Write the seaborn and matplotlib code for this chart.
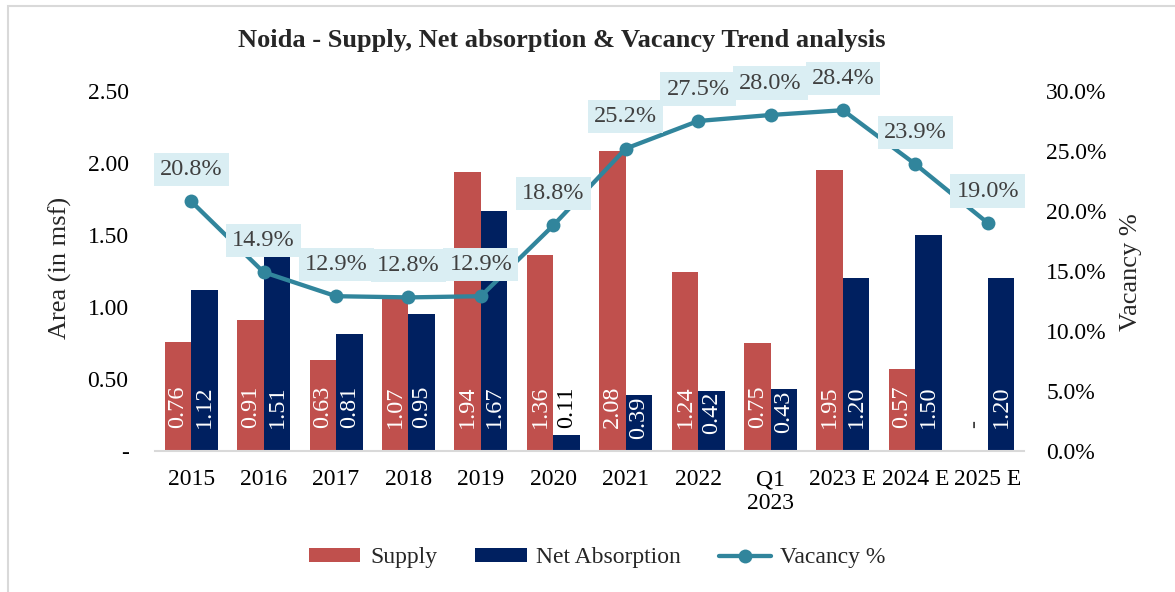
import numpy as np
import pandas as pd
import matplotlib
matplotlib.use("Agg")
import matplotlib.pyplot as plt
import seaborn as sns
from matplotlib.patches import Rectangle, Patch
from matplotlib.lines import Line2D

# ---- data ----
periods = ["2015", "2016", "2017", "2018", "2019", "2020", "2021", "2022",
           "Q1\n2023", "2023 E", "2024 E", "2025 E"]
supply = [0.76, 0.91, 0.63, 1.07, 1.94, 1.36, 2.08, 1.24, 0.75, 1.95, 0.57, 0.00]
net_absorption = [1.12, 1.51, 0.81, 0.95, 1.67, 0.11, 0.39, 0.42, 0.43, 1.20, 1.50, 1.20]
vacancy = [20.8, 14.9, 12.9, 12.8, 12.9, 18.8, 25.2, 27.5, 28.0, 28.4, 23.9, 19.0]
area_ticks = [0.0, 0.5, 1.0, 1.5, 2.0, 2.5]
vacancy_ticks = [0, 5, 10, 15, 20, 25, 30]

# ---- style ----
SUPPLY_C = "#C0504D"
ABS_C = "#002060"
LINE_C = "#31859C"
BOX_C = "#DAEEF3"
LABEL_C = "#404040"
FS = 17
FS_DATA = 17.5
FS_TITLE = 19

sns.set_theme(style="white")
plt.rcParams["font.family"] = ["Liberation Serif", "DejaVu Serif"]

W, H = 1175, 592
fig = plt.figure(figsize=(W / 100, H / 100), dpi=100)
ax = fig.add_axes([155 / W, 1 - 451 / H, (1024 - 155) / W, 360 / H])

df = pd.DataFrame({
    "period": periods * 2,
    "value": supply + net_absorption,
    "series": ["Supply"] * len(periods) + ["Net Absorption"] * len(periods),
})
sns.barplot(data=df, x="period", y="value", hue="series",
            palette={"Supply": SUPPLY_C, "Net Absorption": ABS_C},
            width=0.732, gap=0, dodge=True, saturation=1, errorbar=None,
            linewidth=0, legend=False, ax=ax)

# rotated value labels near the base of each bar
for container, vals in zip(ax.containers, [supply, net_absorption]):
    for bar, v in zip(container, vals):
        x = bar.get_x() + bar.get_width() / 2
        if v == 0:
            ax.text(x, 0.16, "-", rotation=90, ha="center", va="bottom",
                    fontsize=FS_DATA, color=LABEL_C)
        elif v < 0.3:
            ax.text(x, 0.16, f"{v:.2f}", rotation=90, ha="center", va="bottom",
                    fontsize=FS_DATA, color="black")
        elif v < 0.45:
            ax.text(x, v - 0.01, f"{v:.2f}", rotation=90, ha="center", va="top",
                    fontsize=FS_DATA, color="white")
        else:
            ax.text(x, 0.16, f"{v:.2f}", rotation=90, ha="center", va="bottom",
                    fontsize=FS_DATA, color="white")

ax.set_ylim(0, 2.5)
ax.set_yticks(area_ticks)
ax.set_yticklabels(["-" if t == 0 else f"{t:.2f}" for t in area_ticks])
ax.set_xlabel("")
ax.set_ylabel("Area (in msf)", fontsize=FS_TITLE)
ax.yaxis.set_label_coords(-0.0955, 0.508)
for s in ["top", "right", "left"]:
    ax.spines[s].set_visible(False)
ax.spines["bottom"].set_color("#D9D9D9")
ax.spines["bottom"].set_linewidth(1.5)
ax.tick_params(axis="y", length=0, labelsize=FS, pad=19, colors="black")
ax.tick_params(axis="x", length=0, labelsize=FS, pad=13, colors="black")

# vacancy line on the secondary axis
ax2 = ax.twinx()
sns.lineplot(x=np.arange(len(periods)), y=vacancy, ax=ax2, color=LINE_C,
             linewidth=3.1, marker="o", markersize=10, markeredgewidth=0,
             zorder=3)
ax2.set_ylim(0, 30)
ax2.set_yticks(vacancy_ticks)
ax2.set_yticklabels([f"{t:.1f}%" for t in vacancy_ticks])
ax2.tick_params(axis="y", length=0, labelsize=FS, pad=16, colors="black")
ax2.set_ylabel("Vacancy %", fontsize=FS_TITLE)
ax2.yaxis.set_label_coords(1.1105, 0.497)
for s in ax2.spines.values():
    s.set_visible(False)

for i, v in enumerate(vacancy):
    ax2.annotate(f"{v:.1f}%", (i, v), xytext=(0, 23), textcoords="offset points",
                 ha="center", va="center", fontsize=FS_DATA, color=LABEL_C,
                 bbox=dict(boxstyle="square,pad=0.25", fc=BOX_C, ec="none"),
                 zorder=5, annotation_clip=False)

ax.set_xlim(-0.5, len(periods) - 0.5)
ax2.set_xlim(-0.5, len(periods) - 0.5)

fig.text(562 / W, 1 - 40 / H,
         "Noida - Supply, Net absorption & Vacancy Trend analysis",
         ha="center", va="center", fontsize=FS_TITLE, fontweight="bold")

handles = [Patch(fc=SUPPLY_C, ec="none"), Patch(fc=ABS_C, ec="none"),
           Line2D([], [], color=LINE_C, lw=3.1, marker="o", ms=10, mew=0)]
fig.legend(handles=handles, labels=["Supply", "Net Absorption", "Vacancy %"],
           loc="center", bbox_to_anchor=(597 / W, 1 - 558 / H), ncol=3,
           frameon=False, fontsize=FS, handlelength=2.2, handleheight=0.5,
           handletextpad=0.4, columnspacing=1.6)

# chart frame
fig.add_artist(Rectangle((8 / W, -0.1), 1.2, 1 - 6 / H + 0.1,
                         transform=fig.transFigure, fill=False,
                         ec="#D9D9D9", lw=1.5))

fig.savefig("out.png", dpi=100)
